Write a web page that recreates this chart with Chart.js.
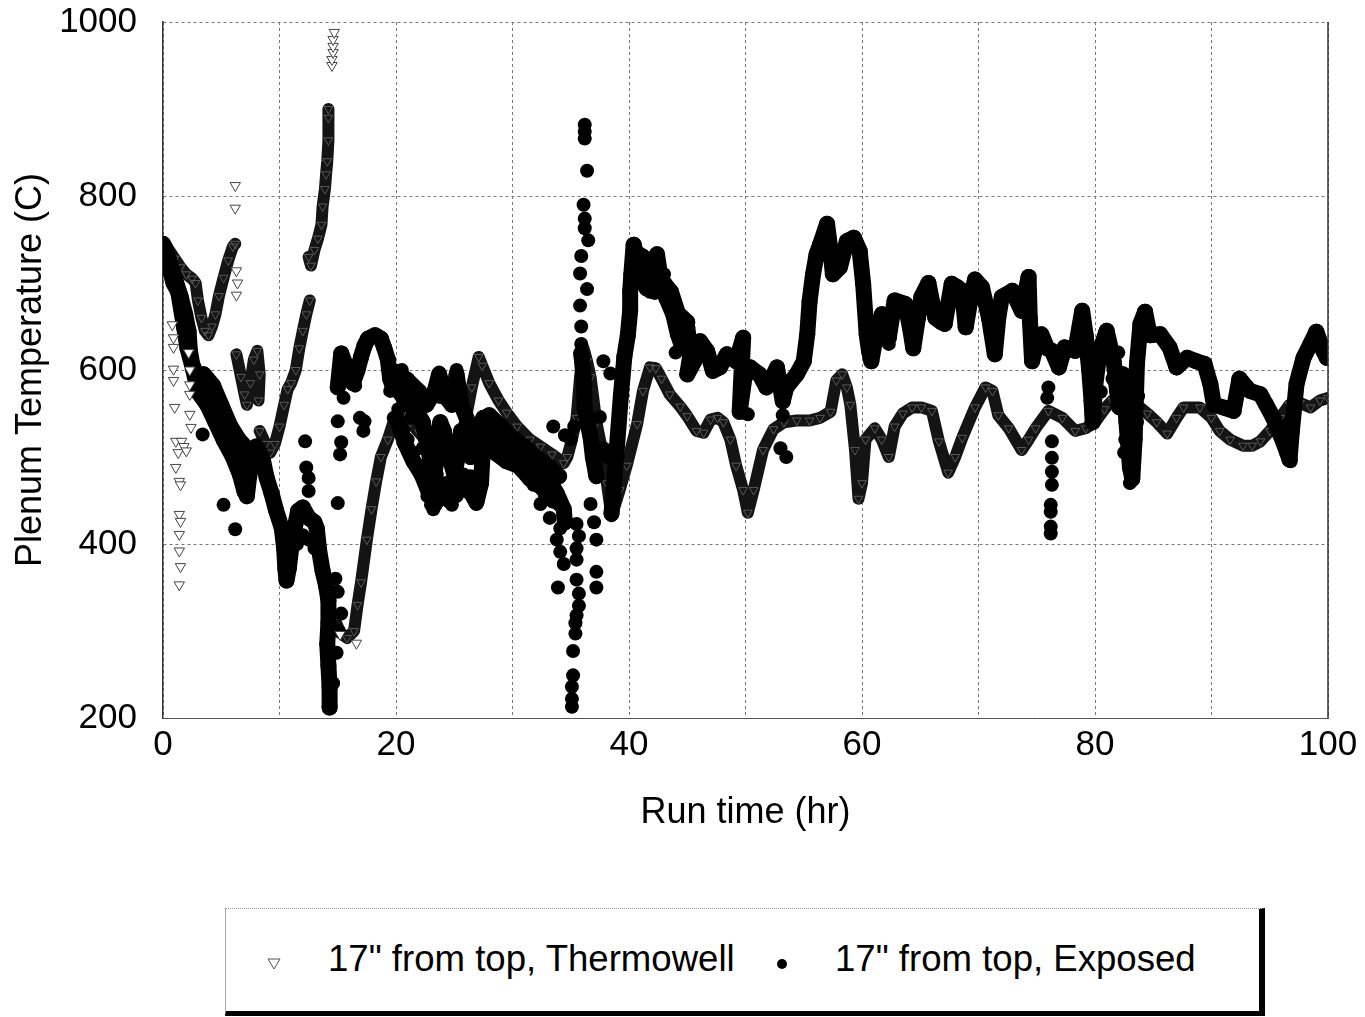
<!DOCTYPE html>
<html>
<head>
<meta charset="utf-8">
<script src="https://cdn.jsdelivr.net/npm/chart.js@4/dist/chart.umd.min.js"></script>
<style>
  html, body { margin: 0; padding: 0; background: #fff; }
  #wrap { position: relative; width: 1365px; height: 1017px; overflow: hidden; }
  #c { position: absolute; left: 0; top: 0; }
  #legend {
    position: absolute; left: 225px; top: 908px; width: 1040px; height: 108px;
    box-sizing: border-box; background: #fff;
    border-left: 1px solid #aaa; border-top: 1px dotted #999;
    border-right: 6px solid #000; border-bottom: 5px solid #000;
    font-family: "Liberation Sans", Arial, sans-serif; font-size: 36.6px; color: #000;
  }
  .lg-item { position: absolute; top: 0; height: 100px; display: flex; align-items: center; white-space: nowrap; }
  .lg-mark { position: absolute; top: 47px; }
</style>
</head>
<body>
<div id="wrap">
  <canvas id="c" width="1365" height="1017"></canvas>
  <div id="legend"></div>
</div>
<script>
// ---------------- DATA ----------------
const seriesNames = ['17" from top, Thermowell', '17" from top, Exposed'];
const xTicks = [0, 20, 40, 60, 80, 100];
const yTicks = [200, 400, 600, 800, 1000];

// Thermowell: continuous trace (null breaks the trace)
const thermowellTrace = [
  [0,745],[0.5,738],[1,728],[1.5,718],[2,710],[2.5,705],[2.8,700],[3.0,680],[3.3,660],[3.6,645],[3.9,640],
  [4.2,650],[4.5,664],[4.8,685],[5.2,706],[5.6,726],[6.0,742],[6.2,745],
  null,
  [6.3,618],[6.7,592],[7.0,572],[7.2,560],[7.5,585],[7.8,612],[8.1,622],[8.3,595],[8.2,565],
  null,
  [8.3,530],[8.8,515],[9.2,505],[9.6,515],[10.0,535],[10.4,560],[10.7,578],[11.0,585],[11.4,600],
  [11.7,625],[12.0,645],[12.3,664],[12.6,680],
  null,
  [12.5,730],[12.7,720],[13.0,738],[13.3,751],[13.6,767],[13.7,788],[13.9,808],[14.0,825],[14.1,840],
  [14.2,864],[14.2,890],[14.2,900],
  null,
  [14.7,315],[15.2,298],[15.8,292],[16.4,300],[16.7,330],[17.0,356],[17.5,405],[17.9,440],[18.3,472],
  [18.7,500],[19.3,520],[19.9,545],[20.5,548],[21.2,540],[22,528],[23,512],[24,498],[25,500],[25.5,514],
  [26,545],[26.5,580],[27.1,615],[27.4,605],[28,585],[28.8,565],[29.5,551],[30.4,535],[31.5,520],
  [32.4,512],[33.4,503],[34.4,493],[34.7,500],[35.1,520],[35.5,545],[35.8,592],[36.1,625],[36.4,610],
  [36.7,592],[37.2,540],[37.8,500],[38.1,470],[38.5,432],[39.2,462],[39.8,490],[40.7,538],[41.2,576],
  [41.8,603],[42.3,602],[42.8,590],[43.5,572],[44.4,558],[45.0,547],[45.8,530],[46.4,528],[47.0,543],
  [47.6,545],[48.1,540],[48.7,520],[49.2,490],[49.8,462],[50.2,436],[50.7,462],[51.5,508],[52.4,532],
  [53.3,540],[54.4,542],[55.5,542],[56.4,545],[57.3,552],[57.8,588],[58.3,595],[58.7,580],[59.0,560],
  [59.4,508],[59.7,452],[60.0,470],[60.3,520],[61.1,533],[61.7,520],[62.3,500],[62.8,535],[63.5,550],
  [64.3,557],[65.1,557],[66.0,553],[66.6,518],[67.4,482],[68.0,500],[68.6,522],[69.7,557],[70.6,580],
  [71.2,576],[71.7,548],[72.6,533],[73.7,508],[74.3,520],[74.9,533],[76.0,553],[77.2,545],[78.3,530],
  [79.2,533],[80.0,540],[80.8,555],[81.5,565],[82.2,572],[83.0,568],[83.6,560],[84.5,550],[85.3,540],
  [86.2,527],[87.0,545],[87.6,557],[89.0,557],[90.0,545],[90.7,530],[91.6,520],[92.7,513],[93.5,513],
  [94.2,518],[95.0,530],[95.9,545],[96.7,560],[97.6,562],[98.5,557],[99.3,565],[100,568]
];

// Thermowell: isolated readings
const thermowellSpots = [
  [0.8,652],[0.9,637],[0.9,626],[0.9,601],[0.9,588],[1.0,557],[1.1,518],[1.3,505],[1.6,518],[1.8,512],
  [2.0,507],[1.1,488],[1.4,472],[1.5,468],[1.4,434],[1.5,426],[1.4,411],[1.4,392],[1.5,374],[1.4,353],
  [2.3,600],[2.3,583],[2.3,572],[2.3,549],[2.4,534],[2.2,620],
  [6.2,812],[6.2,786],[6.3,714],[6.4,700],[6.3,686],
  [14.5,950],[14.5,957],[14.6,965],[14.6,972],[14.6,980],[14.7,988],
  [16.6,286],[15.2,296]
];

// Exposed: continuous trace (null breaks the trace)
const exposedTrace = [
  [0,745],[0.2,740],[0.6,722],[1.0,706],[1.5,685],[1.9,664],[2.2,644],[2.3,623],[2.5,607],[3.0,591],
  [3.6,578],[4.0,566],[4.5,549],[4.9,533],[5.5,521],[6.0,513],[6.5,500],[6.9,488],[7.0,467],[7.2,455],
  [7.4,478],[7.7,505],[8.0,512],[8.3,505],[8.6,495],[8.9,476],[9.3,459],[9.7,439],[10.2,418],[10.4,395],
  [10.5,372],[10.6,358],[10.8,372],[11.0,395],[11.3,418],[11.6,438],[12.0,442],[12.5,430],[13.0,425],
  [13.2,418],[13.4,393],[13.7,369],[14.0,352],[14.2,335],[14.2,310],[14.1,285],[14.2,260],[14.3,235],[14.3,212],
  null,
  [0.4,725],[0.9,700],[1.3,690],[1.8,650],[2.1,625],[2.6,600],[3.0,575],[3.8,560],[4.5,540],[5.2,520],
  [6.0,500],[6.6,480],[7.0,460],
  null,
  [3.5,595],[4.3,582],[5.0,560],[5.8,535],[6.5,520],[7.2,510],
  null,
  [15.0,580],[15.3,619],[15.7,605],[15.9,599],[16.3,585],[16.7,600],[17.0,615],[17.3,628],[17.6,636],
  [18.2,640],[18.7,636],[19.0,625],[19.3,612],[19.5,590],[19.8,578],[20.1,590],[20.3,575],[20.8,565],
  [21.2,560],[21.8,552],[22.3,540],[22.6,520],[22.9,500],[23.2,470],[23.5,500],[23.8,540],[24.1,530],
  [24.4,510],[24.7,495],[25.0,480],[25.3,500],[25.6,530],[26.0,515],[26.4,500],[26.9,525],[27.5,545],
  [28.1,530],[28.6,519],[29.5,512],[30.4,502],[31.0,495],[31.5,488],[32.4,480],[32.9,470],[33.5,465],
  [33.8,458],[34.4,440],[34.5,425],
  null,
  [20.0,598],[21.0,588],[22.0,575],[22.6,560],[23.3,575],[23.7,595],[24.2,570],[24.8,560],[25.2,595],
  [25.6,560],[26.2,540],[26.8,530],[28.0,548],[29.0,535],[30.0,522],[31.0,512],[32.0,500],[33.0,490],[34.0,478],
  null,
  [20.2,540],[20.8,515],[21.5,495],[22.2,480],[22.8,460],[23.3,445],[24.0,460],[24.6,450],[25.2,465],
  [25.8,470],[26.4,460],[26.9,448],[27.3,470],[27.5,520],[28.5,505],[29.5,495],[30.5,490],[31.5,475],
  [32.5,465],[33.5,450],
  null,
  [35.9,619],[36.1,592],[36.2,555],[36.7,523],[36.9,500],[37.2,478],
  null,
  [38.5,435],[38.9,500],[39.3,570],[39.6,615],[39.9,640],[40.1,668],[40.1,690],[40.2,710],[40.4,744],
  [40.9,718],[41.5,694],[42.0,715],[42.4,733],[42.7,706],[43.2,683],[43.8,664],[44.2,641],[44.6,625],
  [45.0,649],[45.3,620],[45.0,595],[45.6,610],[46.1,633],[46.7,622],[47.2,599],[47.8,603],[48.4,618],
  [49.2,610],[49.8,637],[49.6,580],[49.5,552],[49.9,590],[50.4,603],[51.2,595],[51.8,580],[52.3,592],
  [52.7,603],[53.2,564],[53.5,580],[54.4,595],[55.0,610],[55.3,641],[55.5,679],[55.8,710],[56.1,733],
  [56.4,744],[57.0,768],[57.3,737],[57.5,710],[58.1,718],[58.7,748],[59.3,752],[59.8,737],[60.1,699],
  [60.4,641],[60.6,622],[60.8,610],[61.2,640],[61.7,664],[62.3,637],[62.8,680],[63.7,676],[64.1,650],
  [64.4,625],[64.8,660],[65.1,684],[65.7,700],[66.3,660],[66.8,655],[67.1,653],[67.7,699],[68.2,695],
  [68.6,691],[68.9,649],[69.3,680],[69.7,704],[70.3,695],[70.9,660],[71.4,618],[71.7,660],[72.0,684],
  [72.9,691],[73.7,668],[74.3,707],[74.4,660],[74.6,610],[75.0,630],[75.4,641],[75.9,625],[76.3,622],
  [76.9,603],[77.4,626],[78.3,622],[78.9,668],[79.2,640],[79.5,600],[79.7,565],[79.8,540],[80.0,580],
  [80.4,622],[81.0,645],[81.6,610],[81.9,576],[82.1,557],[82.4,595],[82.7,540],[83.0,488],[83.2,475],
  [83.4,520],[83.6,607],[83.9,653],[84.3,667],[84.7,640],[85.6,641],[86.4,626],[87.0,603],[87.9,614],
  [88.7,610],[89.4,607],[89.9,584],[90.2,560],[91.0,557],[91.9,553],[92.4,590],[93.3,576],[94.2,572],
  [94.7,560],[95.3,545],[95.9,526],[96.5,505],[96.7,497],[96.9,530],[97.3,584],[97.9,614],[98.5,630],
  [99.0,644],[99.6,622],[99.9,614],
  null,
  [40.6,735],[41.2,730],[41.8,700],[42.2,690],[43.0,700],[43.6,690],[44.2,665],[45.0,655]
];

// Exposed: isolated readings
const exposedSpots = [
  [3.4,526],[5.2,445],[6.2,417],
  [11.5,400],[12.0,410],[12.5,405],[13.0,395],
  [12.2,518],[12.3,488],[12.5,476],[12.5,461],
  [14.6,240],[14.9,275],[15.1,300],[15.3,320],[15.0,345],[14.8,360],
  [15.0,541],[15.3,517],[15.2,503],[15.0,447],[15.5,568],[16.9,545],[17.2,530],[17.3,541],[19.5,576],
  [19.8,545],[20.2,537],[16.5,582],
  [20.2,555],[20.6,532],[21.0,520],[21.3,545],[21.5,505],[22.0,490],[22.3,510],[22.4,475],[22.7,455],
  [23.0,445],[23.2,440],[23.5,480],[23.7,597],[23.8,569],[24.0,455],[24.3,470],[24.6,465],[24.8,445],
  [25.2,455],[25.2,600],[25.5,560],[25.8,480],[26.1,460],[26.4,478],[26.9,446],[25.0,575],[24.0,580],
  [22.0,575],[21.0,590],[20.5,600],
  [30.3,494],[31.8,468],[32.4,446],[33.5,535],[33.2,430],[32.8,455],[34.0,445],
  [34.4,432],[34.1,418],[33.8,405],[34.1,391],[34.4,377],[35.5,423],[35.7,409],[35.5,395],[35.5,382],
  [33.9,350],[35.5,359],[35.7,343],[35.7,329],[35.5,318],[35.4,309],[35.4,297],[35.2,277],[35.2,249],
  [35.1,236],[35.1,222],[35.1,213],
  [36.7,446],[37.2,405],[37.2,368],[37.2,350],[37.0,425],
  [36.2,882],[36.2,874],[36.2,866],[36.4,829],[36.1,790],[36.2,774],[36.2,763],[36.5,749],[35.9,731],
  [35.8,711],[36.4,693],[35.8,674],[35.9,650],[35.9,630],
  [37.8,610],[38.4,596],[37.5,546],[37.8,510],[38.1,500],[34.5,525],[35.0,520],[35.3,535],
  [40.8,700],[41.2,730],[41.8,690],[42.2,690],[43.0,710],[43.6,690],[44.5,660],[44.0,620],[45.2,630],
  [53.5,500],[53.0,510],[50.2,549],[53.2,548],
  [62.3,630],[62.0,655],
  [76.0,580],[75.9,568],[76.3,518],[76.3,499],[76.3,483],[76.3,468],[76.2,445],[76.2,437],[76.2,420],[76.2,412],
  [82.6,520],[82.5,505],[83.0,470],[83.1,480],[83.3,500],[83.6,540],[83.7,570],[83.5,590],[80.2,600],
  [80.5,575],[81.5,590],[82.0,620],
  [96.5,520],[96.7,540],[96.6,505],[96.8,495]
];

// ---------------- CHART ----------------
const toPts = arr => arr.map(p => p === null ? {x: null, y: null} : {x: p[0], y: p[1]});
const FONT = '"Liberation Sans", Arial, sans-serif';

const rightBorder = {
  id: 'rightBorder',
  afterDatasetsDraw(chart) {
    const {ctx, chartArea: a} = chart;
    ctx.save();
    ctx.strokeStyle = '#333';
    ctx.lineWidth = 1.5;
    ctx.beginPath();
    ctx.moveTo(a.right, a.top);
    ctx.lineTo(a.right, a.bottom);
    ctx.stroke();
    ctx.restore();
  }
};

const chart = new Chart(document.getElementById('c'), {
  type: 'scatter',
  data: {
    datasets: [
      {
        label: seriesNames[0],
        data: toPts(thermowellTrace),
        showLine: true, spanGaps: false,
        borderColor: '#141414', borderWidth: 12,
        borderJoinStyle: 'round', borderCapStyle: 'round',
        pointStyle: 'triangle', rotation: 180, pointRadius: 5,
        pointBackgroundColor: 'rgba(0,0,0,0)', pointBorderColor: '#6a6a6a', pointBorderWidth: 0.8,
        order: 3
      },
      {
        label: seriesNames[1],
        data: toPts(exposedTrace),
        showLine: true, spanGaps: false,
        borderColor: '#000', borderWidth: 16,
        borderJoinStyle: 'round', borderCapStyle: 'round',
        pointStyle: 'circle', pointRadius: 8,
        pointBackgroundColor: '#000', pointBorderColor: '#000', pointBorderWidth: 0,
        order: 2
      },
      {
        label: '',
        data: toPts(exposedSpots),
        showLine: false,
        pointStyle: 'circle', pointRadius: 7,
        pointBackgroundColor: '#000', pointBorderColor: '#000', pointBorderWidth: 0,
        order: 1
      },
      {
        label: '',
        data: toPts(thermowellSpots),
        showLine: false,
        pointStyle: 'triangle', rotation: 180, pointRadius: 6,
        pointBackgroundColor: '#fff', pointBorderColor: '#444', pointBorderWidth: 1,
        order: 0
      }
    ]
  },
  options: {
    responsive: false,
    animation: false,
    devicePixelRatio: 1,
    layout: { padding: { left: 0, right: 37, top: 22, bottom: 182 } },
    plugins: { legend: { display: false }, tooltip: { enabled: false } },
    scales: {
      x: {
        type: 'linear', min: 0, max: 100,
        afterFit(s) { s.height = 117; s.paddingLeft = 0; s.paddingRight = 0; },
        ticks: {
          stepSize: 10, padding: 6, maxRotation: 0, autoSkip: false,
          color: '#000', font: { family: FONT, size: 35 },
          callback: v => xTicks.includes(v) ? String(v) : ''
        },
        grid: { color: '#777', lineWidth: 1, drawTicks: false },
        border: { display: true, color: '#555', width: 1, dash: [3, 3] },
        title: { display: true, text: 'Run time (hr)', color: '#000',
                 font: { family: FONT, size: 36 }, padding: { top: 0, bottom: 0 } }
      },
      y: {
        type: 'linear', min: 200, max: 1000,
        afterFit(s) { s.width = 163; s.paddingTop = 0; s.paddingBottom = 0; },
        afterBuildTicks(s) { s.ticks = yTicks.map(v => ({ value: v })); },
        ticks: { padding: 26, color: '#000', font: { family: FONT, size: 35 },
                 callback: v => String(v) },
        grid: { color: '#777', lineWidth: 1, drawTicks: false },
        border: { display: true, color: '#333', width: 1.5, dash: [3, 3] },
        title: { display: true, text: 'Plenum Temperature (C)', color: '#000',
                 font: { family: FONT, size: 36 }, padding: { top: 9, bottom: 0 } }
      }
    }
  },
  plugins: [rightBorder]
});

// ---------------- LEGEND (built from the chart's datasets) ----------------
(function buildLegend() {
  const lg = document.getElementById('legend');
  const ds = chart.data.datasets.filter(d => d.label);
  const layout = [
    { markX: 40, textX: 102 },
    { markX: 548, textX: 609 }
  ];
  ds.forEach((d, i) => {
    const L = layout[i];
    const mark = document.createElementNS('http://www.w3.org/2000/svg', 'svg');
    mark.setAttribute('width', '16'); mark.setAttribute('height', '16');
    mark.setAttribute('class', 'lg-mark');
    mark.style.left = L.markX + 'px';
    if (d.pointStyle === 'triangle') {
      const p = document.createElementNS('http://www.w3.org/2000/svg', 'polygon');
      p.setAttribute('points', '2,3 14,3 8,13');
      p.setAttribute('fill', '#fff'); p.setAttribute('stroke', '#555'); p.setAttribute('stroke-width', '1');
      mark.appendChild(p);
    } else {
      const c = document.createElementNS('http://www.w3.org/2000/svg', 'circle');
      c.setAttribute('cx', '8'); c.setAttribute('cy', '8'); c.setAttribute('r', '5');
      c.setAttribute('fill', '#000');
      mark.appendChild(c);
    }
    lg.appendChild(mark);
    const t = document.createElement('div');
    t.className = 'lg-item';
    t.style.left = L.textX + 'px';
    t.textContent = d.label;
    lg.appendChild(t);
  });
})();
</script>
</body>
</html>
